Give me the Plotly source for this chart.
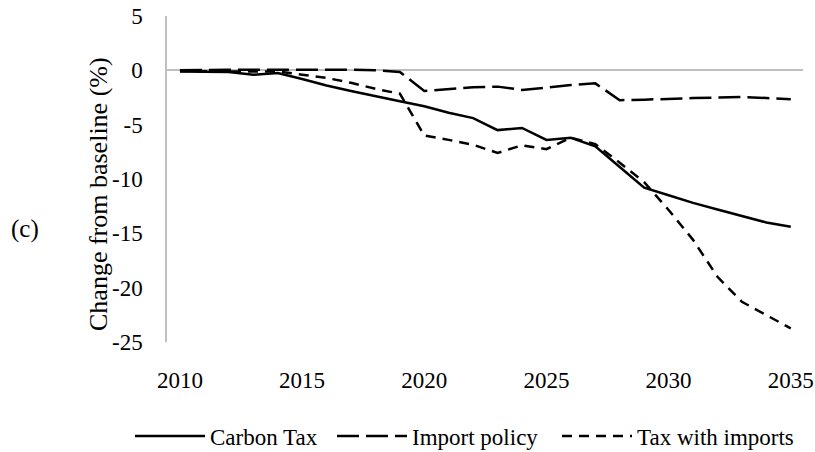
import plotly.graph_objects as go

years = list(range(2010, 2036))
carbon_tax = [-0.1, -0.15, -0.15, -0.4, -0.25, -0.8, -1.4, -1.9, -2.4, -2.85, -3.3, -3.9, -4.4,
              -5.5, -5.3, -6.4, -6.2, -7.0, -8.9, -10.8, -11.5, -12.2, -12.8, -13.4, -14.0, -14.4]
import_policy = [0.0, 0.05, 0.05, 0.05, 0.05, 0.1, 0.1, 0.05, 0.0, -0.15, -1.9, -1.7, -1.55,
                 -1.5, -1.8, -1.6, -1.35, -1.2, -2.75, -2.7, -2.6, -2.55, -2.5, -2.45, -2.55, -2.65]
tax_with_imports = [-0.05, -0.1, -0.1, -0.1, -0.1, -0.4, -0.7, -1.15, -1.7, -2.15, -6.0, -6.4, -6.85,
                    -7.6, -6.9, -7.25, -6.2, -6.8, -8.5, -10.3, -12.85, -15.6, -19.0, -21.3, -22.5, -23.75]
x_ticks = [2010, 2015, 2020, 2025, 2030, 2035]
y_ticks = [5, 0, -5, -10, -15, -20, -25]
y_tick_labels = ["5", "0", "-5", "-10", "-15", "-20", "-25"]

FONT = "Liberation Serif"
W, H = 815, 452
L, R, T, B = 167, 803, 16, 342

fig = go.Figure()
fig.add_trace(go.Scatter(x=years, y=carbon_tax, mode="lines", name="Carbon Tax", legend="legend",
                         line=dict(color="black", width=2.5)))
fig.add_trace(go.Scatter(x=years, y=import_policy, mode="lines", name="Import policy", legend="legend2",
                         line=dict(color="black", width=2.5, dash="22px,7px")))
fig.add_trace(go.Scatter(x=years, y=tax_with_imports, mode="lines", name="Tax with imports", legend="legend3",
                         line=dict(color="black", width=2.5, dash="10px,7px")))

def leg(left_px):
    return dict(orientation="h", xref="container", yref="container",
                x=left_px / W, xanchor="left", y=(H - 436) / H, yanchor="middle",
                font=dict(family=FONT, size=23, color="black"), itemwidth=70,
                bgcolor="rgba(0,0,0,0)", borderwidth=0)

fig.update_layout(
    width=W, height=H,
    margin=dict(l=L, r=W - R, t=T, b=H - B, autoexpand=False),
    paper_bgcolor="white", plot_bgcolor="white",
    font=dict(family=FONT, size=23, color="black"),
    showlegend=True,
    legend=leg(130), legend2=leg(332), legend3=leg(557),
    xaxis=dict(range=[2009.47, 2035.5], tickvals=x_ticks, showgrid=False, showline=False,
               zeroline=False, ticks="", ticklabelstandoff=22, automargin=False,
               tickfont=dict(family=FONT, size=23, color="black")),
    yaxis=dict(range=[-25, 5], tickvals=y_ticks, ticktext=y_tick_labels, showgrid=False, showline=True,
               linecolor="#bfbfbf", linewidth=1.5, zeroline=True, zerolinecolor="#bfbfbf",
               zerolinewidth=1.5, ticks="", ticklabelstandoff=18, automargin=False,
               tickfont=dict(family=FONT, size=23, color="black")),
)

def px_to_paper(px, py):
    return (px - L) / (R - L), (B - py) / (B - T)

ax, ay = px_to_paper(98, 194)
cx, cy = px_to_paper(25, 229)
fig.add_annotation(text="Change from baseline (%)", textangle=-90, x=ax, y=ay, xref="paper", yref="paper",
                   showarrow=False, font=dict(family=FONT, size=26, color="black"),
                   xanchor="center", yanchor="middle")
fig.add_annotation(text="(c)", x=cx, y=cy, xref="paper", yref="paper", showarrow=False,
                   font=dict(family=FONT, size=25, color="black"), xanchor="center", yanchor="middle")

fig.write_html("out.html", config={"displayModeBar": False},
               post_script="document.body.style.margin='0';")
